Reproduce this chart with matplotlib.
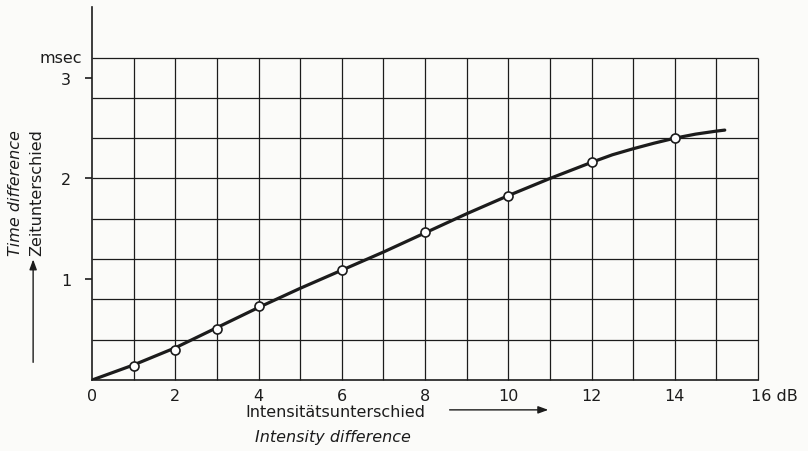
import matplotlib
matplotlib.use("Agg")
import matplotlib.pyplot as plt

# values
intensity_db = [1, 2, 3, 4, 6, 8, 10, 12, 14]
time_ms = [0.14, 0.30, 0.51, 0.73, 1.09, 1.47, 1.83, 2.16, 2.40]

# hand-drawn fitted curve, read at the grid lines
curve_db = [0, 1, 2, 3, 4, 5, 6, 7, 8, 9, 10, 11, 12, 12.5, 13, 13.5, 14,
            14.5, 15, 15.2]
curve_ms = [0.0, 0.15, 0.32, 0.52, 0.72, 0.91, 1.09, 1.27, 1.46, 1.65, 1.83,
            2.00, 2.16, 2.235, 2.295, 2.35, 2.40, 2.44, 2.47, 2.48]

x_grid = list(range(1, 17))
y_grid = [0.4, 0.8, 1.2, 1.6, 2.0, 2.4, 2.8, 3.2]
x_ticks = [0, 2, 4, 6, 8, 10, 12, 14]
y_ticks = [1, 2, 3]

INK = "#1c1c1c"
PAPER = "#fbfbf9"
FS = 11.5

plt.rcParams["font.family"] = ["DejaVu Sans"]

fig = plt.figure(figsize=(8.08, 4.52), dpi=100, facecolor=PAPER)
ax = fig.add_axes([0.1139, 0.157, 0.8243, 0.825])
ax.set_facecolor(PAPER)
ax.set_xlim(0, 16)
ax.set_ylim(0, 3.7)

# grid drawn by hand so it stops at 16 dB / 3.2 msec
ax.vlines(x_grid, 0, 3.2, color=INK, lw=0.9, zorder=1, clip_on=False)
ax.hlines(y_grid, 0, 16, color=INK, lw=0.9, zorder=1, clip_on=False)

ax.plot(curve_db, curve_ms, color=INK, lw=2.3, zorder=2,
        solid_capstyle="round", solid_joinstyle="round")
ax.plot(intensity_db, time_ms, "o", ms=6.5, mfc="white", mec=INK, mew=1.2, zorder=3)

for side in ("top", "right"):
    ax.spines[side].set_visible(False)
ax.spines["left"].set_color(INK)
ax.spines["bottom"].set_color(INK)
ax.spines["left"].set_linewidth(1.2)
ax.spines["bottom"].set_linewidth(1.2)

ax.set_xticks(x_ticks)
ax.set_xticklabels([str(v) for v in x_ticks], fontsize=FS, color=INK)
ax.tick_params(axis="x", length=0, pad=6)
ax.set_yticks(y_ticks)
ax.set_yticklabels([str(v) for v in y_ticks], fontsize=FS, color=INK)
ax.tick_params(axis="y", length=5, width=1.2, color=INK, pad=10)

ax.text(16.4, -0.08, "16 dB", ha="center", va="top", fontsize=FS, color=INK)
ax.text(-0.25, 3.2, "msec", ha="right", va="center", fontsize=FS, color=INK)

# axis captions with arrows
fig.text(0.415, 0.088, "Intensitätsunterschied", ha="center", va="center",
         fontsize=FS, color=INK)
fig.text(0.412, 0.033, "Intensity difference", ha="center", va="center",
         fontsize=FS, color=INK, style="italic")
fig.add_artist(matplotlib.patches.FancyArrowPatch(
    (0.553, 0.091), (0.682, 0.091), transform=fig.transFigure,
    arrowstyle="-|>,head_length=6,head_width=2.2", color=INK, lw=1.0))

fig.text(0.046, 0.575, "Zeitunterschied", ha="center", va="center",
         rotation=90, fontsize=FS, color=INK)
fig.text(0.019, 0.573, "Time difference", ha="center", va="center",
         rotation=90, fontsize=FS, color=INK, style="italic")
fig.add_artist(matplotlib.patches.FancyArrowPatch(
    (0.041, 0.19), (0.041, 0.43), transform=fig.transFigure,
    arrowstyle="-|>,head_length=6,head_width=2.2", color=INK, lw=1.0))

fig.savefig("out.png", dpi=100, facecolor=PAPER)
